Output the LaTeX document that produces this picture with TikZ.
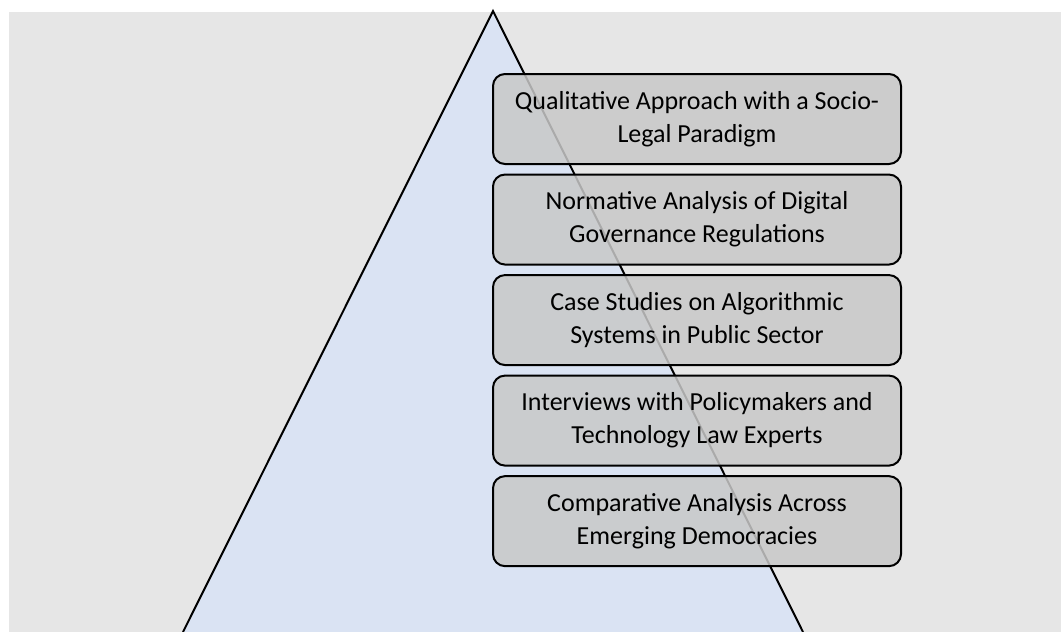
\documentclass[tikz,border=0pt]{standalone}
\usepackage{fontspec}
\setmainfont{Carlito}
\usepackage{tikz}
\usetikzlibrary{positioning}
\definecolor{bggray}{RGB}{230,230,230}
\definecolor{triblue}{RGB}{218,227,243}
\definecolor{boxgray}{RGB}{200,200,200}
\tikzset{
  stagebox/.style={draw, line width=1.5pt, rectangle, rounded corners=9pt, fill=boxgray, fill opacity=0.85, text opacity=1, minimum height=67.5pt, minimum width=306pt, align=center, font=\fontsize{19.5}{24.75}\selectfont}
}
\begin{document}
\begin{tikzpicture}[x=0.75pt, y=-0.75pt, node distance=6.4pt]
    \useasboundingbox (0,0) rectangle (1061,632);
    % Define the background and the pyramid
    \fill[bggray] (9,12) rectangle (1061,632);
    \coordinate (apex) at (493,11);
    \coordinate (baseleft) at (183,632);
    \coordinate (baseright) at (803,632);
    \fill[triblue] (apex) -- (baseleft) -- (baseright) -- cycle;
    \draw[line width=1.5pt] (baseleft) -- (apex) -- (baseright);
    % Define the blocks for each stage
    \node (qualitative) [stagebox] at (697,119) {Qualitative Approach with a Socio-\\Legal Paradigm};
    \node (normative) [stagebox, below=of qualitative] {Normative Analysis of Digital\\Governance Regulations};
    \node (casestudies) [stagebox, below=of normative] {Case Studies on Algorithmic\\Systems in Public Sector};
    \node (interviews) [stagebox, below=of casestudies] {Interviews with Policymakers and\\Technology Law Experts};
    \node (comparative) [stagebox, below=of interviews] {Comparative Analysis Across\\Emerging Democracies};
\end{tikzpicture}
\end{document}
